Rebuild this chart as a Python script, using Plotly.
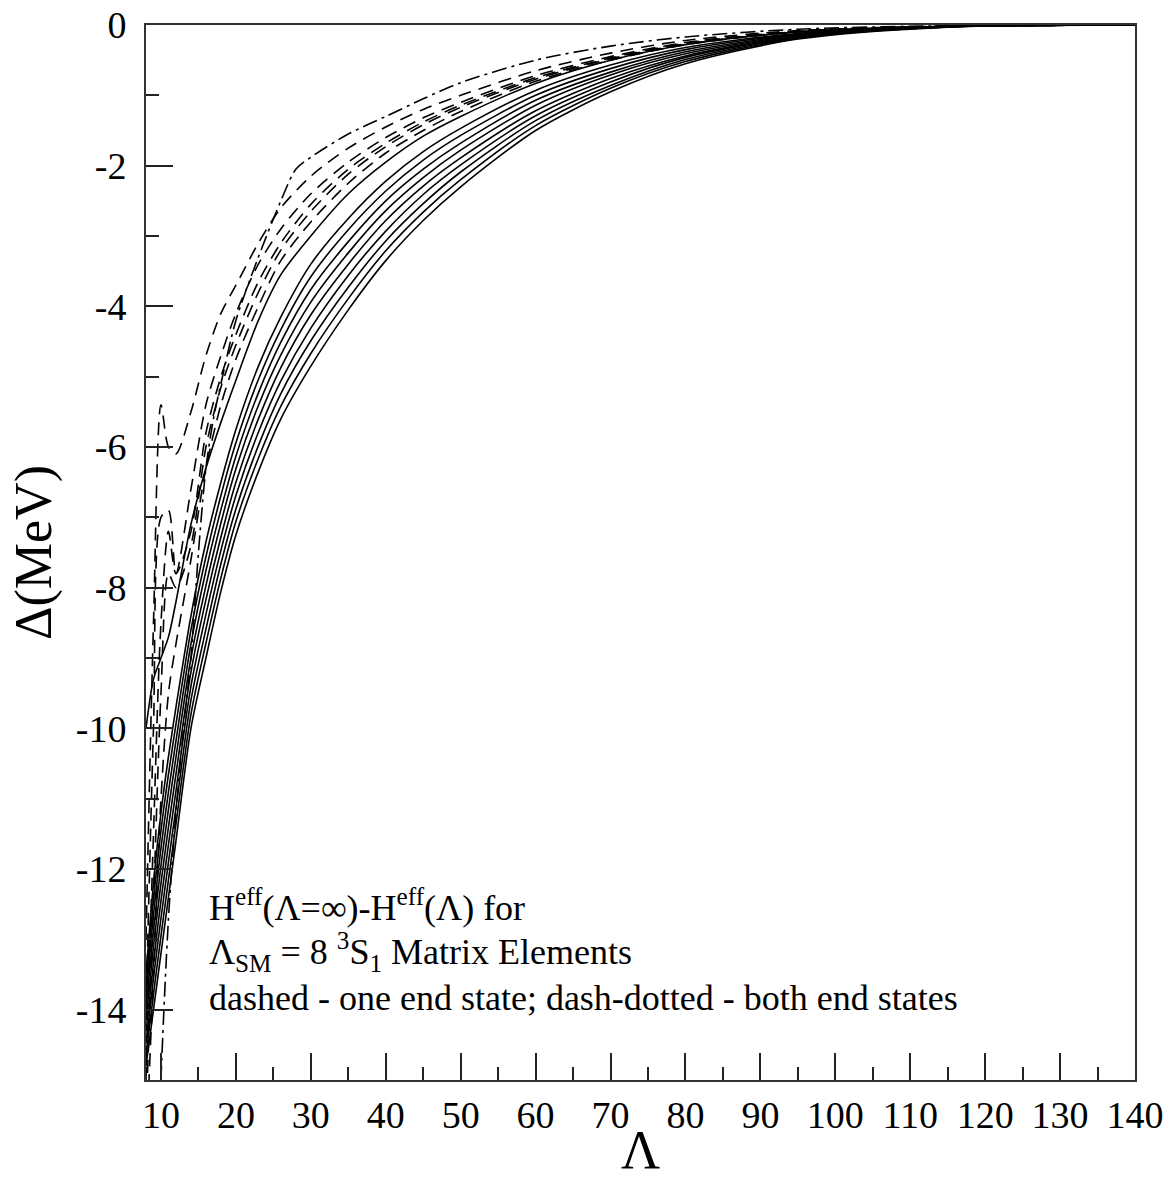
import plotly.graph_objects as go

# Cutoff values Lambda at which the matrix elements are sampled
LAM = [8, 9, 10, 11, 12, 14, 16, 18, 20, 23, 26, 30, 35, 40, 45, 50, 60, 70, 80, 95, 115, 140]

# Solid curves: H_eff(inf) - H_eff(Lambda), in MeV
SOLID = {
    "s1": [-10.0, -9.3, -9.0, -8.7, -8.2, -7.1, -6.3, -5.65, -5.05, -4.2, -3.55, -3.0, -2.4, -1.95, -1.58, -1.3, -0.83, -0.5, -0.28, -0.1, -0.02, 0],
    "b1": [-13.5, -12.2, -11.2, -10.4, -9.7, -8.4, -7.35, -6.5, -5.75, -4.85, -4.15, -3.4, -2.75, -2.22, -1.8, -1.47, -0.93, -0.57, -0.32, -0.12, -0.02, 0],
    "b2": [-13.66, -12.43, -11.45, -10.65, -9.94, -8.6, -7.56, -6.69, -5.94, -5.04, -4.33, -3.58, -2.91, -2.36, -1.92, -1.57, -1.0, -0.62, -0.35, -0.13, -0.02, 0],
    "b3": [-13.83, -12.65, -11.7, -10.9, -10.18, -8.8, -7.76, -6.89, -6.13, -5.23, -4.51, -3.76, -3.08, -2.5, -2.05, -1.68, -1.07, -0.67, -0.38, -0.14, -0.02, 0],
    "b4": [-13.99, -12.88, -11.95, -11.15, -10.41, -9.0, -7.97, -7.08, -6.31, -5.41, -4.69, -3.94, -3.24, -2.64, -2.17, -1.78, -1.14, -0.71, -0.41, -0.15, -0.02, 0],
    "b5": [-14.15, -13.1, -12.2, -11.4, -10.65, -9.2, -8.17, -7.28, -6.5, -5.6, -4.87, -4.12, -3.4, -2.78, -2.29, -1.89, -1.22, -0.76, -0.44, -0.16, -0.025, 0],
    "b6": [-14.31, -13.33, -12.45, -11.65, -10.89, -9.4, -8.38, -7.47, -6.69, -5.79, -5.06, -4.31, -3.56, -2.93, -2.41, -1.99, -1.29, -0.81, -0.46, -0.17, -0.026, 0],
    "b7": [-14.48, -13.55, -12.7, -11.9, -11.13, -9.6, -8.59, -7.66, -6.88, -5.98, -5.24, -4.49, -3.73, -3.07, -2.54, -2.09, -1.36, -0.86, -0.49, -0.18, -0.028, 0],
    "b8": [-14.64, -13.78, -12.95, -12.15, -11.36, -9.8, -8.79, -7.86, -7.06, -6.16, -5.42, -4.67, -3.89, -3.21, -2.66, -2.2, -1.43, -0.9, -0.52, -0.19, -0.029, 0],
    "b9": [-14.8, -14.0, -13.2, -12.4, -11.6, -10.0, -9.0, -8.05, -7.25, -6.35, -5.6, -4.85, -4.05, -3.35, -2.78, -2.3, -1.5, -0.95, -0.55, -0.2, -0.03, 0],
}

# Dashed curves: one end state
DASHED = {
    "d1": [-13.0, -8.5, -5.4, -6.0, -6.1, -5.5, -4.7, -4.1, -3.7, -3.1, -2.6, -2.15, -1.75, -1.45, -1.2, -1.0, -0.65, -0.4, -0.22, -0.08, -0.015, 0],
    "d2": [-14.0, -10.0, -7.0, -6.9, -7.8, -6.6, -5.4, -4.7, -4.1, -3.4, -2.9, -2.4, -1.95, -1.6, -1.32, -1.1, -0.72, -0.45, -0.25, -0.09, -0.02, 0],
    "d3": [-15.0, -11.5, -8.5, -7.2, -7.8, -7.2, -5.8, -5.0, -4.4, -3.65, -3.1, -2.55, -2.05, -1.68, -1.38, -1.14, -0.75, -0.47, -0.26, -0.09, -0.02, 0],
    "d4": [-15.5, -12.5, -9.5, -7.8, -8.0, -7.4, -6.0, -5.15, -4.55, -3.8, -3.2, -2.65, -2.12, -1.73, -1.42, -1.17, -0.77, -0.48, -0.27, -0.095, -0.02, 0],
    "d5": [-16.0, -13.5, -11.0, -9.5, -8.8, -7.6, -6.3, -5.4, -4.75, -4.0, -3.35, -2.8, -2.25, -1.82, -1.5, -1.23, -0.8, -0.5, -0.28, -0.1, -0.02, 0],
}

# Dash-dotted curve: both end states
DD_LAM = [9.5, 10, 11, 12, 13, 14, 15, 16, 17, 18, 20, 23, 26, 28, 30, 35, 40, 45, 50, 60, 70, 80, 95, 115, 140]
DD_VAL = [-17.0, -15.0, -12.7, -11.2, -10.0, -9.0, -7.5, -6.3, -5.6, -5.1, -4.2, -3.3, -2.5, -2.05, -1.88, -1.55, -1.3, -1.05, -0.82, -0.5, -0.3, -0.17, -0.06, -0.01, 0]

X_TICKS = [10, 20, 30, 40, 50, 60, 70, 80, 90, 100, 110, 120, 130, 140]
Y_TICKS = [0, -2, -4, -6, -8, -10, -12, -14]
Y_TICKTEXT = ["0", "-2", "-4", "-6", "-8", "-10", "-12", "-14"]

SERIF = "Liberation Serif, Times New Roman, serif"

fig = go.Figure()
line_common = dict(color="black", width=1.6, shape="spline", smoothing=0.8)

for name, vals in SOLID.items():
    fig.add_trace(go.Scatter(x=LAM, y=vals, mode="lines", name=name,
                             line=dict(**line_common, dash="solid")))
for name, vals in DASHED.items():
    fig.add_trace(go.Scatter(x=LAM, y=vals, mode="lines", name=name,
                             line=dict(**line_common, dash="13px,8px")))
fig.add_trace(go.Scatter(x=DD_LAM, y=DD_VAL, mode="lines", name="dd",
                         line=dict(**line_common, dash="15px,5px,3px,5px")))

annot_lines = [
    "H<sup>eff</sup>(\u039b=\u221e)-H<sup>eff</sup>(\u039b) for",
    "\u039b<sub>SM</sub> = 8 <sup>3</sup>S<sub>1</sub> Matrix Elements",
    "dashed - one end state; dash-dotted - both end states",
]
annot_y = [0.165, 0.121, 0.078]
for t, yy in zip(annot_lines, annot_y):
    fig.add_annotation(x=0.062, y=yy, xref="paper", yref="paper",
                       text=t, showarrow=False, xanchor="left", yanchor="middle",
                       font=dict(family=SERIF, size=36, color="black"))

axis_common = dict(
    showline=True, linecolor="#333", linewidth=2, mirror=True,
    showgrid=False, zeroline=False, ticks="inside", ticklen=27,
    tickwidth=1.5, tickcolor="#222", automargin=False,
    tickfont=dict(family=SERIF, size=38, color="black"),
)

fig.update_xaxes(range=[8, 140], tickvals=X_TICKS,
                 minor=dict(dtick=5, tick0=0, ticks="inside", ticklen=13, tickwidth=1.5, tickcolor="#222"),
                 title=dict(text="\u039b", font=dict(family=SERIF, size=54, color="black"), standoff=0),
                 **axis_common)
fig.update_yaxes(range=[-15, 0], tickvals=Y_TICKS, ticktext=Y_TICKTEXT,
                 ticklabelstandoff=10,
                 minor=dict(dtick=1, tick0=0, ticks="inside", ticklen=13, tickwidth=1.5, tickcolor="#222"),
                 title=dict(text="\u0394(MeV)", font=dict(family=SERIF, size=52, color="black"), standoff=8),
                 **axis_common)

fig.update_layout(
    width=1169, height=1180,
    margin=dict(l=146, r=34, t=25, b=100),
    plot_bgcolor="white", paper_bgcolor="white",
    showlegend=False,
)

fig.write_html("out.html")
